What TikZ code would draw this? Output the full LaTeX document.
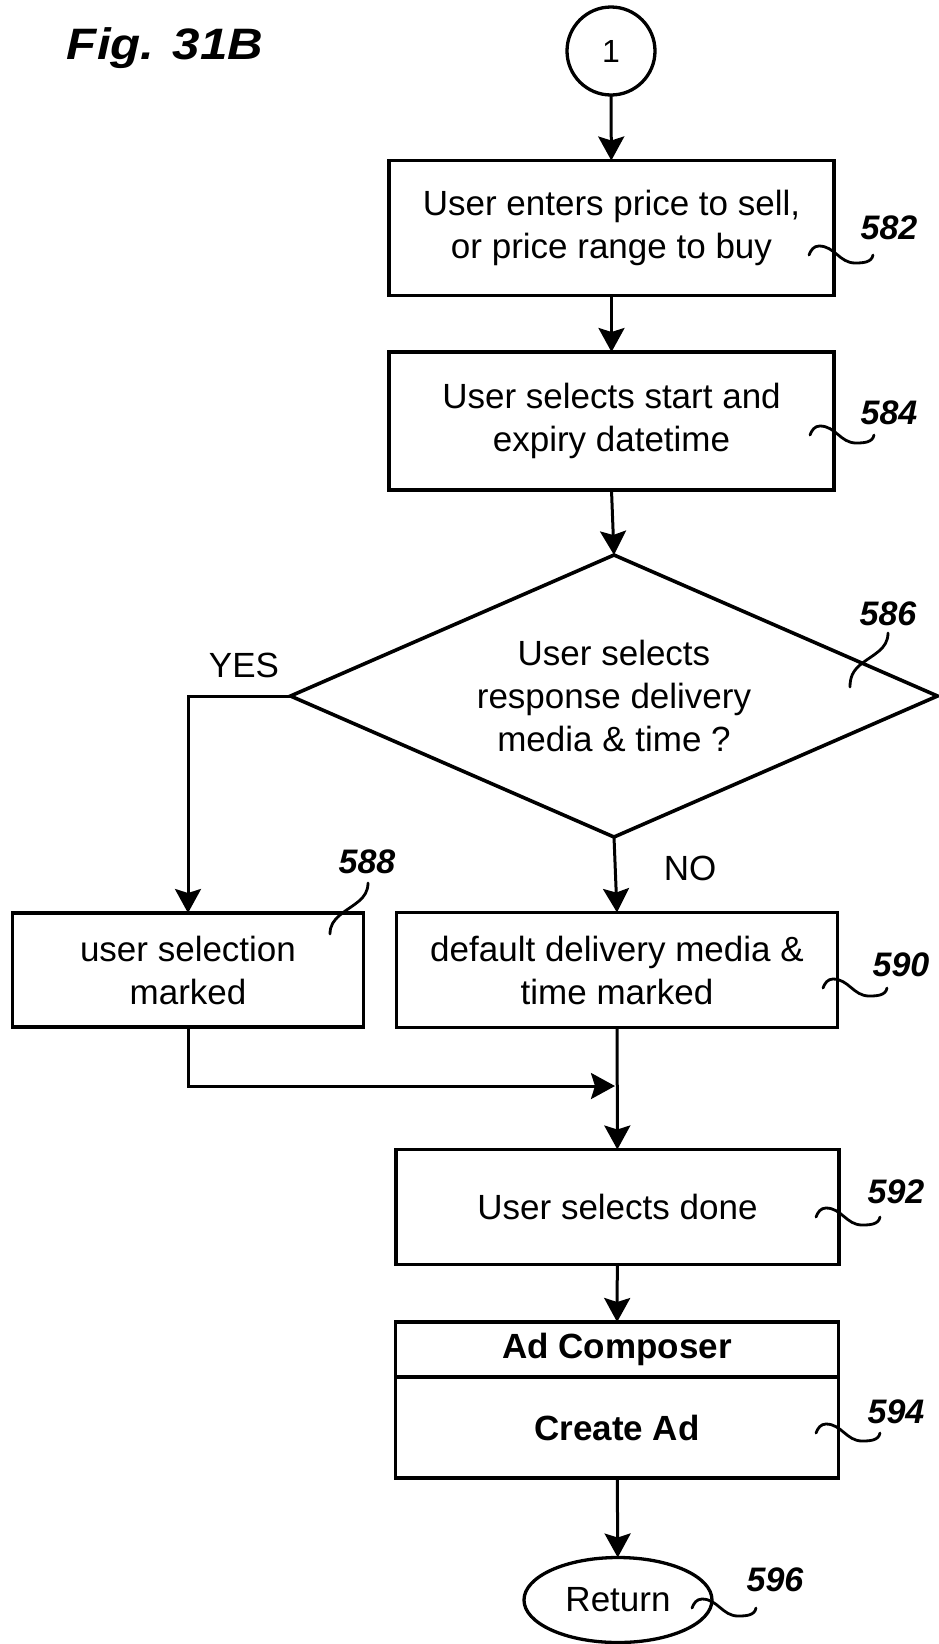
\documentclass[tikz,border=0pt]{standalone}
\usepackage{fontspec}
\setmainfont{Liberation Sans}
\usetikzlibrary{shapes.geometric,arrows.meta,positioning}

\newcommand{\refsquig}[1]{\draw[lead] (#1) to[out=70,in=180] ++(10,9) to[out=0,in=180] ++(36,-17) to[out=0,in=-100] ++(18,8);}

\begin{document}
\begin{tikzpicture}[x=1pt,y=1pt,
  every node/.style={font=\fontsize{35}{43}\selectfont},
  box/.style={draw,line width=3.6pt,rectangle,align=center,outer sep=0pt},
  boldbox/.style={box,font=\fontsize{35}{43}\selectfont\bfseries},
  arr/.style={line width=3pt,-{Stealth[length=24pt,width=26pt,inset=4pt]}},
  lead/.style={line width=2.8pt,line cap=round},
  refnum/.style={font=\fontsize{34}{40}\selectfont\bfseries\itshape}]
\useasboundingbox (0,0) rectangle (939,-1644);

\node[anchor=base west,xscale=1.12,transform shape,font=\fontsize{44}{50}\selectfont\bfseries\itshape] (fig) at (63,-59) {Fig. 31B};

\node[circle,draw,line width=3.3pt,minimum size=88pt,inner sep=0pt,outer sep=0pt,font=\fontsize{32}{38}\selectfont] (c1) at (611,-51) {1};
\node[box,minimum width=445pt,minimum height=135pt] (b582) at (611.5,-228) {User enters price to sell,\\or price range to buy};
\node[box,minimum width=445pt,minimum height=138pt] (b584) at (611.5,-421) {User selects start and\\expiry datetime};
\node[diamond,draw,line width=3.6pt,align=center,aspect=2.29,inner sep=0pt,outer sep=0pt,minimum width=647pt,minimum height=282pt] (d586) at (614,-696) {User selects\\response delivery\\media \& time ?};
\node[box,minimum width=351pt,minimum height=114pt] (b588) at (188,-970) {user selection\\marked};
\node[box,minimum width=441pt,minimum height=115pt] (b590) at (617,-970) {default delivery media \&\\time marked};
\node[box,minimum width=443pt,minimum height=115pt] (b592) at (617.5,-1207) {User selects done};
\node[boldbox,minimum width=443pt,minimum height=55pt] (adc) at (617,-1349.5) {Ad Composer};
\node[boldbox,minimum width=443pt,minimum height=101pt,below=0pt of adc] (crt) {Create Ad};
\node[ellipse,draw,line width=3.3pt,minimum width=188pt,minimum height=85pt,inner sep=0pt,outer sep=0pt] (ret) at (618,-1600) {Return};

\coordinate (mrg) at (615,-1086);

\draw[arr] (c1) -- (b582);
\draw[arr] (b582) -- (b584);
\draw[arr] (b584.south) -- (d586.north);
\draw[arr] (d586.west) -| (b588.north);
\draw[arr] (d586.south) -- (b590.north);
\draw[arr] (b588.south) |- (mrg);
\draw[arr] (b590) -- (b592);
\draw[arr] (b592) -- (adc);
\draw[arr] (crt) -- (ret);

\node (yes) at (244,-665) {YES};
\node (no) at (690,-868) {NO};

\node[refnum] (n582) at (889,-228) {582};
\node[refnum] (n584) at (889,-413) {584};
\node[refnum] (n586) at (888,-614) {586};
\node[refnum] (n588) at (367,-862) {588};
\node[refnum] (n590) at (901,-965) {590};
\node[refnum] (n592) at (896,-1192) {592};
\node[refnum] (n594) at (896,-1412) {594};
\node[refnum] (n596) at (775,-1580) {596};

\coordinate (s582) at (809,-255);
\coordinate (s584) at (810,-435);
\coordinate (s590) at (823,-988);
\coordinate (s592) at (816,-1217);
\coordinate (s594) at (816,-1433);
\coordinate (s596) at (692,-1608);
\coordinate (t586) at (888,-633);
\coordinate (t588) at (368,-883);

\refsquig{s582}
\refsquig{s584}
\refsquig{s590}
\refsquig{s592}
\refsquig{s594}
\refsquig{s596}
\draw[lead] (t586) to[out=-90,in=40] ++(-28,-32) to[out=220,in=90] ++(-10,-22);
\draw[lead] (t588) to[out=-90,in=40] ++(-28,-32) to[out=220,in=90] ++(-10,-19);

\end{tikzpicture}
\end{document}
